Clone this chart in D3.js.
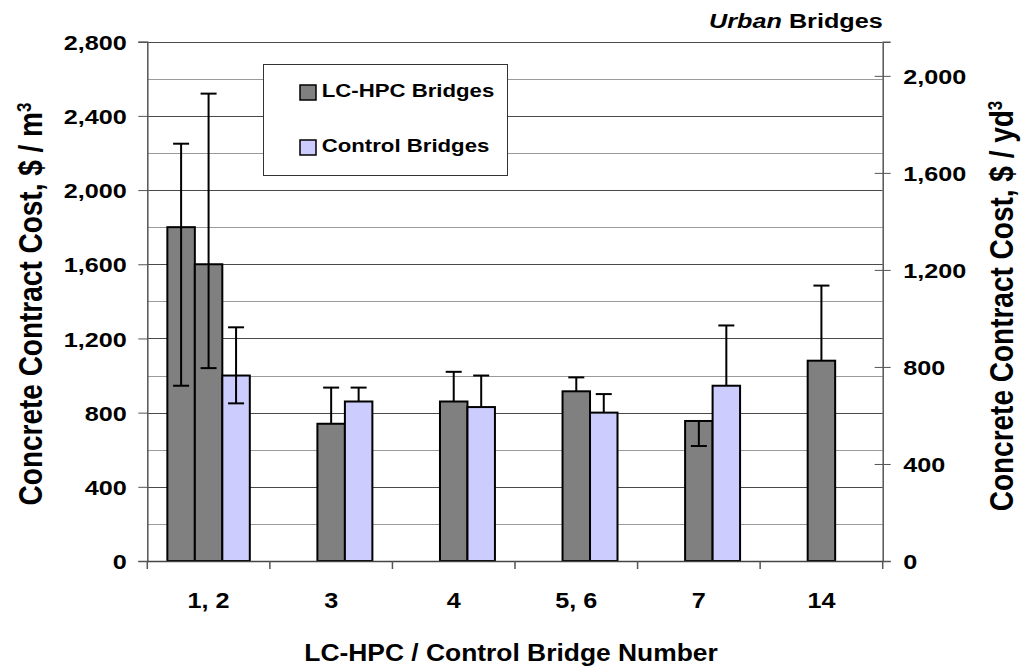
<!DOCTYPE html>
<html><head><meta charset="utf-8">
<script src="https://cdn.jsdelivr.net/npm/d3@7/dist/d3.min.js"></script>
<style>
body{margin:0;background:#fff;}
text{font-family:"Liberation Sans",Arial,sans-serif;font-weight:bold;fill:#000;}
</style>
</head><body>
<svg id="c" width="1021" height="671"></svg>
<script>
// ---- data ($ / m^3) ----
const categories = ["1, 2", "3", "4", "5, 6", "7", "14"];
const seriesKeys = ["lcA", "lcB", "ctrl"];
const lcA      = [1800, null, null, null, null, null];
const lcAHigh  = [2250, null, null, null, null, null];
const lcALow   = [945,  null, null, null, null, null];
const lcB      = [1600, 740, 860, 915, 755, 1080];
const lcBHigh  = [2520, 935, 1020, 990, null, 1485];
const lcBLow   = [1040, null, null, null, 620, null];
const ctrl     = [1000, 860, 830, 800, 945, null];
const ctrlHigh = [1260, 935, 1000, 900, 1270, null];
const ctrlLow  = [850,  null, null, null, null, null];
const leftTicks  = [0, 400, 800, 1200, 1600, 2000, 2400, 2800];
const rightTicks = [0, 400, 800, 1200, 1600, 2000];
const legendLabels = ["LC-HPC Bridges", "Control Bridges"];
const M3_PER_YD3 = 1.30795; // conversion used for the right axis

const colors = {lcA: "#808080", lcB: "#808080", ctrl: "#CCCCFF"};
const SX = 1.2; // horizontal text stretch seen in the reference

const svg = d3.select("#c");
const L = 147.3, R = 882.7, T = 41.7, B = 561;

const x = d3.scaleBand().domain(categories).range([L, R]).padding(0);
const xs = d3.scaleBand().domain(seriesKeys).range([0, x.bandwidth()]).paddingInner(0).paddingOuter(0.73);
const yL = d3.scaleLinear().domain([0, 2800]).range([B, T]);
const yR = d3.scaleLinear().domain([0, 2800 / M3_PER_YD3]).range([B, T]);

// gridlines
const gridVals = d3.range(200, 2801, 200);
svg.append("g").selectAll("line").data(gridVals).join("line")
  .attr("x1", L).attr("x2", R)
  .attr("y1", d => Math.round(yL(d)) + 0.5).attr("y2", d => Math.round(yL(d)) + 0.5)
  .attr("stroke", d => d % 400 === 0 ? "#4a4a4a" : "#9a9a9a").attr("stroke-width", 1);

// bars
const rows = categories.map((c, i) => ({
  c,
  items: [
    {k: "lcA", v: lcA[i], hi: lcAHigh[i], lo: lcALow[i]},
    {k: "lcB", v: lcB[i], hi: lcBHigh[i], lo: lcBLow[i]},
    {k: "ctrl", v: ctrl[i], hi: ctrlHigh[i], lo: ctrlLow[i]}
  ].filter(d => d.v != null)
}));
const gBars = svg.append("g");
rows.forEach(r => {
  r.items.forEach(d => {
    const bx = x(r.c) + xs(d.k);
    gBars.append("rect")
      .attr("x", bx).attr("y", yL(d.v))
      .attr("width", xs.bandwidth()).attr("height", yL(0) - yL(d.v))
      .attr("fill", colors[d.k]).attr("stroke", "#000").attr("stroke-width", 2);
  });
});
// error bars
const gErr = svg.append("g").attr("stroke", "#000").attr("stroke-width", 2);
rows.forEach(r => {
  r.items.forEach(d => {
    const cx = x(r.c) + xs(d.k) + xs.bandwidth() / 2;
    [d.hi, d.lo].forEach(e => {
      if (e == null) return;
      gErr.append("line").attr("x1", cx).attr("x2", cx).attr("y1", yL(d.v)).attr("y2", yL(e));
      gErr.append("line").attr("x1", cx - 8).attr("x2", cx + 8).attr("y1", yL(e)).attr("y2", yL(e));
    });
  });
});

// left axis
const axL = svg.append("g").attr("transform", `translate(${L},0)`)
  .call(d3.axisLeft(yL).tickValues(leftTicks).tickSize(9).tickFormat(d3.format(",")));
axL.select(".domain").attr("stroke", "#555").attr("stroke-width", 1.5);
axL.selectAll(".tick line").attr("stroke", "#555");
axL.selectAll(".tick text").attr("x", null).attr("dy", "0.36em")
  .attr("transform", `translate(-20.6,0) scale(${SX},1)`)
  .style("font-size", "21px").attr("text-anchor", "end").attr("font-family", null);

// right axis
const axR = svg.append("g").attr("transform", `translate(${R},0)`)
  .call(d3.axisRight(yR).tickValues(rightTicks).tickSize(8).tickFormat(d3.format(",")));
axR.select(".domain").attr("stroke", "#555").attr("stroke-width", 1.5);
axR.selectAll(".tick line").attr("stroke", "#555").attr("x1", -8).attr("x2", 8);
axR.selectAll(".tick text").attr("x", null).attr("dy", "0.36em")
  .attr("transform", `translate(20.6,0) scale(${SX},1)`)
  .style("font-size", "21px").attr("text-anchor", "start").attr("font-family", null);

// bottom axis
const axB = svg.append("g").attr("transform", `translate(0,${B})`)
  .call(d3.axisBottom(x).tickSize(0).tickPadding(0));
axB.select(".domain").attr("stroke", "#444").attr("stroke-width", 1.5);
axB.selectAll(".tick text").attr("y", null).attr("dy", null)
  .attr("transform", `translate(0,47) scale(1.12,1)`)
  .style("font-size", "22.5px").attr("font-family", null);
const bounds = categories.map(c => x(c)).concat([R]);
svg.append("g").selectAll("line").data(bounds).join("line")
  .attr("x1", d => d).attr("x2", d => d).attr("y1", B).attr("y2", B + 8)
  .attr("stroke", "#555").attr("stroke-width", 1.5);

// axis titles
svg.append("text").attr("transform", `translate(${(L + R) / 2 - 4},${B + 100}) scale(1.1,1)`)
  .attr("text-anchor", "middle").style("font-size", "24px")
  .text("LC-HPC / Control Bridge Number");

const lt = svg.append("text").attr("transform", `translate(42,304) scale(${SX},1) rotate(-90)`)
  .attr("text-anchor", "middle").style("font-size", "28px");
lt.append("tspan").text("Concrete Contract Cost, $ / m");
lt.append("tspan").attr("dy", "-0.55em").style("font-size", "17px").text("3");

const rt = svg.append("text").attr("transform", `translate(1013,306) scale(${SX},1) rotate(-90)`)
  .attr("text-anchor", "middle").style("font-size", "28px");
rt.append("tspan").text("Concrete Contract Cost, $ / yd");
rt.append("tspan").attr("dy", "-0.55em").style("font-size", "17px").text("3");

// corner title
const ut = svg.append("text").attr("transform", `translate(${R},28) scale(${SX},1)`)
  .attr("text-anchor", "end").style("font-size", "21px");
ut.append("tspan").style("font-style", "italic").text("Urban");
ut.append("tspan").text(" Bridges");

// legend
const lg = svg.append("g");
lg.append("rect").attr("x", 263.5).attr("y", 64.5).attr("width", 244).attr("height", 111)
  .attr("fill", "#fff").attr("stroke", "#333").attr("stroke-width", 1);
const legColors = [colors.lcB, colors.ctrl];
legendLabels.forEach((t, i) => {
  const yy = 92 + i * 55;
  lg.append("rect").attr("x", 300).attr("y", yy - 7).attr("width", 16).attr("height", 15)
    .attr("fill", legColors[i]).attr("stroke", "#000").attr("stroke-width", 1.5);
  lg.append("text").attr("transform", `translate(321.7,${yy + 5}) scale(${SX},1)`)
    .style("font-size", "18.5px").text(t);
});
</script>
</body></html>
